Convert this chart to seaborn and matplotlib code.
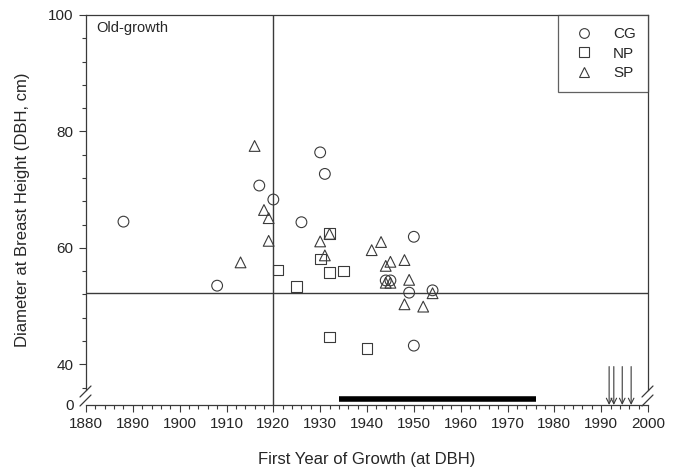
import numpy as np
import pandas as pd
import seaborn as sns
import matplotlib.pyplot as plt
from matplotlib.lines import Line2D
from matplotlib.ticker import MultipleLocator, FixedLocator

# first year of growth at DBH and tree diameter, per site
cg_year = [1888, 1908, 1917, 1920, 1926, 1930, 1931, 1950, 1944, 1945, 1949, 1954, 1950]
cg_dbh = [64.5, 53.5, 70.7, 68.3, 64.4, 76.4, 72.7, 61.9, 54.4, 54.4, 52.3, 52.7, 43.2]

np_year = [1921, 1925, 1930, 1932, 1932, 1935, 1932, 1940]
np_dbh = [56.2, 53.3, 58.1, 62.4, 55.7, 56.0, 44.7, 42.7]

sp_year = [1916, 1918, 1919, 1919, 1913, 1930, 1932, 1931, 1943, 1941,
           1945, 1944, 1948, 1944, 1945, 1949, 1954, 1948, 1952]
sp_dbh = [77.5, 66.5, 65.1, 61.2, 57.5, 61.1, 62.4, 58.7, 61.0, 59.6,
          57.6, 56.9, 57.9, 54.0, 54.0, 54.5, 52.2, 50.3, 49.9]

sites = ['CG', 'NP', 'SP']
ref_year = 1920        # vertical reference line
ref_dbh = 52.3         # horizontal reference line
period = (1934, 1976)  # black bar
arrow_years = [1991.7, 1992.7, 1994.5, 1996.4]

df = pd.concat([
    pd.DataFrame({'year': cg_year, 'dbh': cg_dbh, 'site': 'CG'}),
    pd.DataFrame({'year': np_year, 'dbh': np_dbh, 'site': 'NP'}),
    pd.DataFrame({'year': sp_year, 'dbh': sp_dbh, 'site': 'SP'}),
])

sns.set_style('ticks')
plt.rcParams['font.family'] = ['Liberation Sans', 'DejaVu Sans']

gray = '#3a3a3a'
marks = {'CG': 'o', 'NP': 's', 'SP': '^'}

fig = plt.figure(figsize=(6.73, 4.70), dpi=100)
ax = fig.add_axes([86/673, 1 - 405/470, 562/673, 390/470])

ybot = 33  # where the broken axis shows "0"

ax.axvline(ref_year, color=gray, lw=1)
ax.axhline(ref_dbh, color=gray, lw=1)

sns.scatterplot(data=df, x='year', y='dbh', style='site', markers=marks,
                s=60, facecolor='none', edgecolor=gray, linewidth=0.8,
                legend=False, ax=ax, zorder=3)

ax.hlines(34.1, period[0], period[1], color='black', lw=4)
for yr in arrow_years:
    ax.annotate('', xy=(yr, ybot), xytext=(yr, 39.6),
                arrowprops=dict(arrowstyle='->', color=gray, lw=0.8,
                                shrinkA=0, shrinkB=0, mutation_scale=10))

ax.set_xlim(1880, 2000)
ax.set_ylim(ybot, 100)
ax.xaxis.set_major_locator(MultipleLocator(10))
ax.xaxis.set_minor_locator(MultipleLocator(2))
ax.set_yticks([ybot, 40, 60, 80, 100])
ax.set_yticklabels(['0', '40', '60', '80', '100'])
ax.yaxis.set_minor_locator(FixedLocator(np.arange(36, 100, 4)))
ax.yaxis.get_major_ticks()[0].tick1line.set_visible(False)
ax.tick_params(which='major', direction='out', length=5, width=0.8,
               color=gray, labelsize=11, pad=4)
ax.tick_params(which='minor', direction='out', length=3, width=0.8, color=gray)

for side in ['left', 'right', 'top', 'bottom']:
    ax.spines[side].set_color(gray)
    ax.spines[side].set_linewidth(0.9)
ax.spines['left'].set_bounds(35.6, 100)
ax.spines['right'].set_bounds(35.6, 100)

# axis break marks
for xa in [0, 1]:
    for dy in [0, 9]:
        ax.plot([xa - 6/562, xa + 5/562], [dy/390 - 1/390, dy/390 + 10/390],
                transform=ax.transAxes, color=gray, lw=0.9, clip_on=False)

ax.set_xlabel('First Year of Growth (at DBH)', fontsize=12)
ax.set_ylabel('Diameter at Breast Height (DBH, cm)', fontsize=12)
ax.xaxis.set_label_coords(0.5, -0.12)
ax.yaxis.set_label_coords(-0.1, 0.5)

ax.text(0.018, 0.985, 'Old-growth', transform=ax.transAxes,
        ha='left', va='top', fontsize=10.5)

handles = [Line2D([], [], marker=marks[s], ls='none', mfc='none', mec=gray,
                  mew=0.8, ms=7) for s in sites]
leg = ax.legend(handles, sites, loc='upper right', borderaxespad=0,
                fontsize=11, frameon=True, fancybox=False, borderpad=0.8,
                handlelength=1.8, handletextpad=1.0, labelspacing=0.35)
leg.get_frame().set_edgecolor(gray)
leg.get_frame().set_linewidth(0.9)

fig.savefig('out.png', dpi=100)
